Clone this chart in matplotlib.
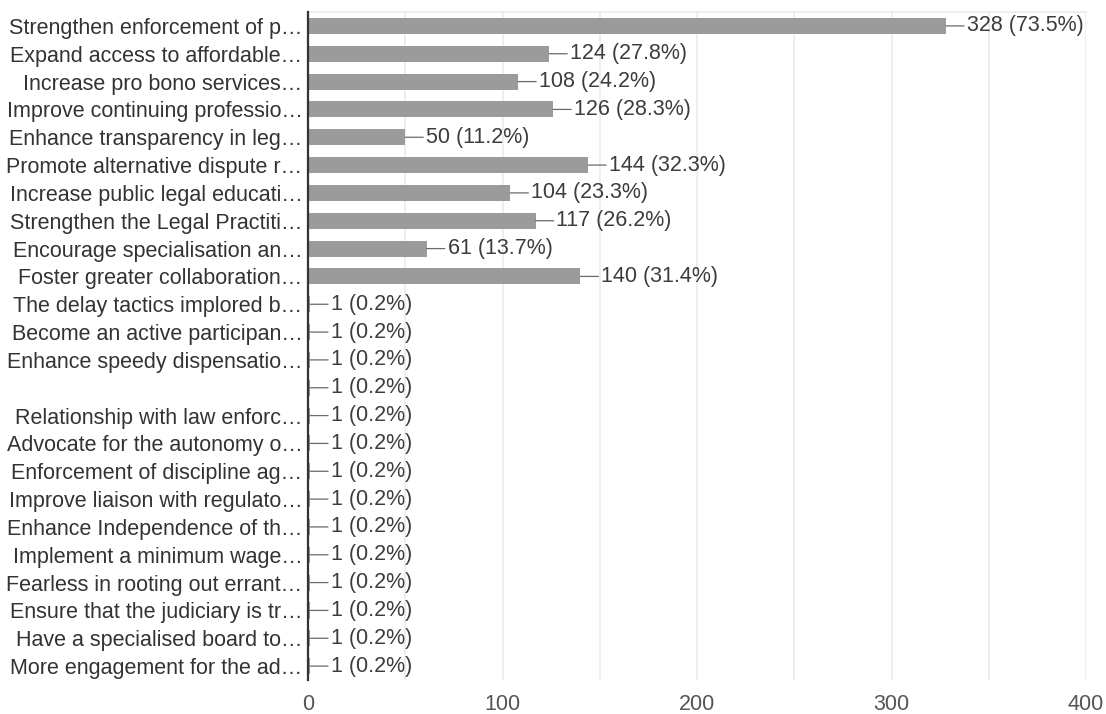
"""Horizontal bar chart of survey responses: suggested priorities for the legal profession."""

import matplotlib

matplotlib.use("Agg")
import matplotlib.pyplot as plt
import numpy as np
from matplotlib.ticker import MultipleLocator

plt.rcParams["font.family"] = ["Liberation Sans", "DejaVu Sans"]

# Answer options, as shown (truncated) on the form summary
CATEGORIES = [
    "Strengthen enforcement of p\u2026",
    "Expand access to affordable\u2026",
    "Increase pro bono services\u2026",
    "Improve continuing professio\u2026",
    "Enhance transparency in leg\u2026",
    "Promote alternative dispute r\u2026",
    "Increase public legal educati\u2026",
    "Strengthen the Legal Practiti\u2026",
    "Encourage specialisation an\u2026",
    "Foster greater collaboration\u2026",
    "The delay tactics implored b\u2026",
    "Become an active participan\u2026",
    "Enhance speedy dispensatio\u2026",
    "",
    "Relationship with law enforc\u2026",
    "Advocate for the autonomy o\u2026",
    "Enforcement of discipline ag\u2026",
    "Improve liaison with regulato\u2026",
    "Enhance Independence of th\u2026",
    "Implement a minimum wage\u2026",
    "Fearless in rooting out errant\u2026",
    "Ensure that the judiciary is tr\u2026",
    "Have a specialised board to\u2026",
    "More engagement for the ad\u2026",
]
COUNTS = [328, 124, 108, 126, 50, 144, 104, 117, 61, 140] + [1] * 14
RESPONDENTS = 446
X_TICKS = [0, 100, 200, 300, 400]

BAR_COLOR = "#9b9b9b"
TEXT_COLOR = "#333333"
GRID_COLOR = "#ebebeb"
FONT_SIZE = 15.5

fig = plt.figure(figsize=(11.06, 7.14), dpi=100)
ax = fig.add_axes([0.2785, 0.0476, 0.7035, 0.9356])

y = np.arange(len(CATEGORIES))
ax.barh(y, COUNTS, height=0.58, color=BAR_COLOR, zorder=2)

for yi, count in zip(y, COUNTS):
    pct = 100 * count / RESPONDENTS
    ax.annotate(
        f"{count} ({pct:.1f}%)",
        xy=(count, yi),
        xytext=(15, 0),
        textcoords="offset points",
        ha="left",
        va="center",
        fontsize=FONT_SIZE,
        color="#3c3c3c",
        arrowprops=dict(arrowstyle="-", color="#6a6a6a", lw=0.9,
                        shrinkA=0, shrinkB=0),
        zorder=3,
    )

ax.set_xlim(0, 400)
ax.set_ylim(len(CATEGORIES) - 0.5, -0.5)
ax.set_yticks(y)
ax.set_yticklabels(CATEGORIES, fontsize=FONT_SIZE, color=TEXT_COLOR)
ax.set_xticks(X_TICKS)
ax.set_xticklabels([str(t) for t in X_TICKS], fontsize=FONT_SIZE, color="#555555")
ax.xaxis.set_minor_locator(MultipleLocator(50))
ax.tick_params(axis="y", length=0, pad=4)
ax.tick_params(axis="x", which="both", length=0, pad=10)

ax.grid(axis="x", which="both", color=GRID_COLOR, lw=1.2, zorder=0)

for side in ("right", "bottom"):
    ax.spines[side].set_visible(False)
ax.spines["top"].set_color(GRID_COLOR)
ax.spines["top"].set_linewidth(1.2)
ax.spines["left"].set_color("#333333")
ax.spines["left"].set_linewidth(1.6)
ax.spines["left"].set_zorder(4)

fig.savefig("out.png", dpi=100, facecolor="white")
plt.close(fig)
